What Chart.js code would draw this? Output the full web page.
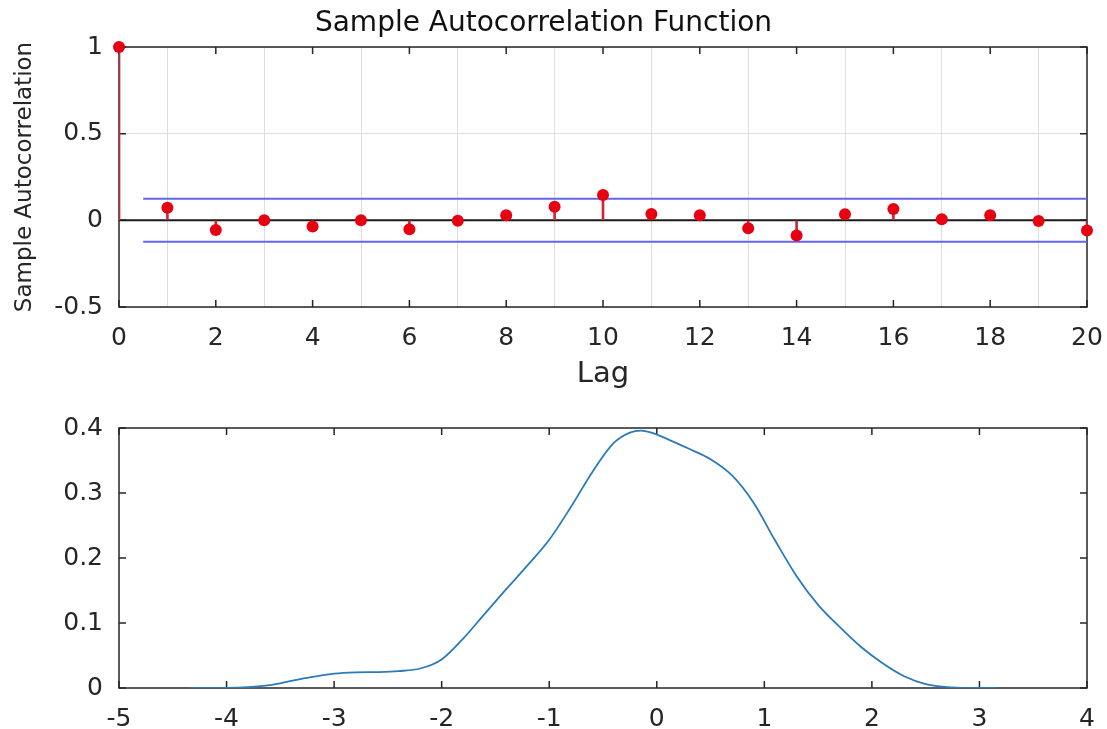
<!DOCTYPE html>
<html><head><meta charset="utf-8">
<script src="https://cdn.jsdelivr.net/npm/chart.js@4.4.1/dist/chart.umd.min.js"></script>
<style>html,body{margin:0;padding:0;background:#fff;}canvas{display:block;}</style>
</head><body>
<canvas id="acf" width="1107" height="400"></canvas>
<canvas id="kde" width="1107" height="329"></canvas>
<script>
// ---- data ----
const lags = [0,1,2,3,4,5,6,7,8,9,10,11,12,13,14,15,16,17,18,19,20];
const acfValues = [1,0.073,-0.056,0.0,-0.035,0.0,-0.052,-0.002,0.029,0.079,0.146,0.036,0.029,-0.046,-0.087,0.035,0.065,0.006,0.029,-0.004,-0.058];
const confBound = 0.124;
const confLagRange = [0.5, 20];
const acfTitle = 'Sample Autocorrelation Function';
const acfYLabel = 'Sample Autocorrelation';
const acfXLabel = 'Lag';

const densityX = [-4.34,-4.0,-3.8,-3.6,-3.4,-3.2,-3.0,-2.8,-2.6,-2.4,-2.2,-2.0,-1.8,-1.6,-1.4,-1.2,-1.0,-0.8,-0.6,-0.4,-0.25,-0.15,-0.05,0.1,0.3,0.5,0.7,0.9,1.1,1.3,1.5,1.7,1.9,2.1,2.3,2.5,2.7,2.9,3.16];
const densityY = [0,0.0003,0.0015,0.0045,0.011,0.017,0.022,0.024,0.0245,0.026,0.030,0.044,0.076,0.114,0.152,0.189,0.228,0.278,0.332,0.377,0.393,0.396,0.393,0.383,0.368,0.352,0.327,0.285,0.227,0.172,0.128,0.094,0.063,0.038,0.018,0.006,0.0015,0.0002,0];

// ---- styling ----
const FONT = "'DejaVu Sans', 'Liberation Sans', Arial, sans-serif";
const AXIS_COLOR = '#262626';
const TICK_FONT = {family: FONT, size: 25};
const plainNumber = v => String(Math.round(v * 1000) / 1000);

const boxTicks = {
  id: 'boxTicks',
  beforeDatasetsDraw(chart, args, opts) {
    const {ctx, chartArea: a, scales: {x, y}} = chart;
    const L = opts.len;
    ctx.save();
    ctx.strokeStyle = AXIS_COLOR;
    ctx.lineWidth = 1.5;
    ctx.beginPath();
    x.ticks.forEach(t => {
      const px = x.getPixelForValue(t.value);
      ctx.moveTo(px, a.bottom); ctx.lineTo(px, a.bottom - L);
      ctx.moveTo(px, a.top); ctx.lineTo(px, a.top + L);
    });
    y.ticks.forEach(t => {
      const py = y.getPixelForValue(t.value);
      ctx.moveTo(a.left, py); ctx.lineTo(a.left + L, py);
      ctx.moveTo(a.right, py); ctx.lineTo(a.right - L, py);
    });
    ctx.stroke();
    ctx.strokeRect(a.left, a.top, a.right - a.left, a.bottom - a.top);
    ctx.restore();
  }
};

const toXY = (xs, ys) => xs.map((v, i) => ({x: v, y: ys[i]}));
const fixX = h => s => { s.height = h; s.paddingLeft = 0; s.paddingRight = 0; };
const fixY = w => s => { s.width = w; s.paddingTop = 0; s.paddingBottom = 0; };

// ---- ACF chart ----
new Chart(document.getElementById('acf'), {
  type: 'scatter',
  data: {
    datasets: [
      {type: 'scatter', data: toXY(lags, acfValues), pointRadius: 6, pointBackgroundColor: '#e60012', pointBorderColor: '#e60012', pointBorderWidth: 0, clip: false},
      {type: 'bar', data: toXY(lags, acfValues), backgroundColor: '#c8283a', barThickness: 2, borderWidth: 0},
      {type: 'line', data: [{x: lags[0], y: 0}, {x: lags[lags.length-1], y: 0}], borderColor: '#1a1a1a', borderWidth: 2, pointRadius: 0},
      {type: 'line', data: [{x: confLagRange[0], y: confBound}, {x: confLagRange[1], y: confBound}], borderColor: '#6464f0', borderWidth: 2, pointRadius: 0},
      {type: 'line', data: [{x: confLagRange[0], y: -confBound}, {x: confLagRange[1], y: -confBound}], borderColor: '#6464f0', borderWidth: 2, pointRadius: 0}
    ]
  },
  options: {
    responsive: false, animation: false, events: [],
    layout: {padding: {left: 0, right: 20, top: 0, bottom: 0}},
    plugins: {
      legend: {display: false}, tooltip: {enabled: false},
      title: {display: true, text: acfTitle, color: '#111', font: {family: FONT, size: 28, weight: 'normal', lineHeight: 1.2}, padding: {top: 7, bottom: 6.4}},
      boxTicks: {len: 7}
    },
    scales: {
      x: {type: 'linear', min: 0, max: 20, offset: false,
          ticks: {stepSize: 2, color: AXIS_COLOR, font: TICK_FONT, padding: 16, maxRotation: 0, autoSkip: false, callback: plainNumber},
          grid: {color: '#dddddd', drawTicks: false}, border: {display: false},
          title: {display: true, text: acfXLabel, color: AXIS_COLOR, font: {family: FONT, size: 29}, padding: {top: 0, bottom: 8}},
          afterFit: fixX(93)},
      y: {type: 'linear', min: -0.5, max: 1,
          ticks: {stepSize: 0.5, color: AXIS_COLOR, font: TICK_FONT, padding: 16, callback: plainNumber},
          grid: {color: '#dddddd', drawTicks: false}, border: {display: false},
          title: {display: true, text: acfYLabel, color: AXIS_COLOR, font: {family: FONT, size: 23}, padding: {top: 11, bottom: 0}},
          afterFit: fixY(119)}
    }
  },
  plugins: [boxTicks]
});

// ---- density chart ----
new Chart(document.getElementById('kde'), {
  type: 'line',
  data: {
    datasets: [
      {data: toXY(densityX, densityY), borderColor: '#2b7bb9', borderWidth: 1.8, pointRadius: 0, cubicInterpolationMode: 'monotone', fill: false}
    ]
  },
  options: {
    responsive: false, animation: false, events: [],
    layout: {padding: {left: 0, right: 20, top: 28, bottom: 0}},
    plugins: {legend: {display: false}, tooltip: {enabled: false}, boxTicks: {len: 7}},
    scales: {
      x: {type: 'linear', min: -5, max: 4,
          ticks: {stepSize: 1, color: AXIS_COLOR, font: TICK_FONT, padding: 16, maxRotation: 0, autoSkip: false, callback: plainNumber},
          grid: {display: false, drawTicks: false}, border: {display: false},
          afterFit: fixX(41)},
      y: {type: 'linear', min: 0, max: 0.4,
          ticks: {stepSize: 0.1, color: AXIS_COLOR, font: TICK_FONT, padding: 16, callback: plainNumber},
          grid: {display: false, drawTicks: false}, border: {display: false},
          afterFit: fixY(119)}
    }
  },
  plugins: [boxTicks]
});
</script>
</body></html>
